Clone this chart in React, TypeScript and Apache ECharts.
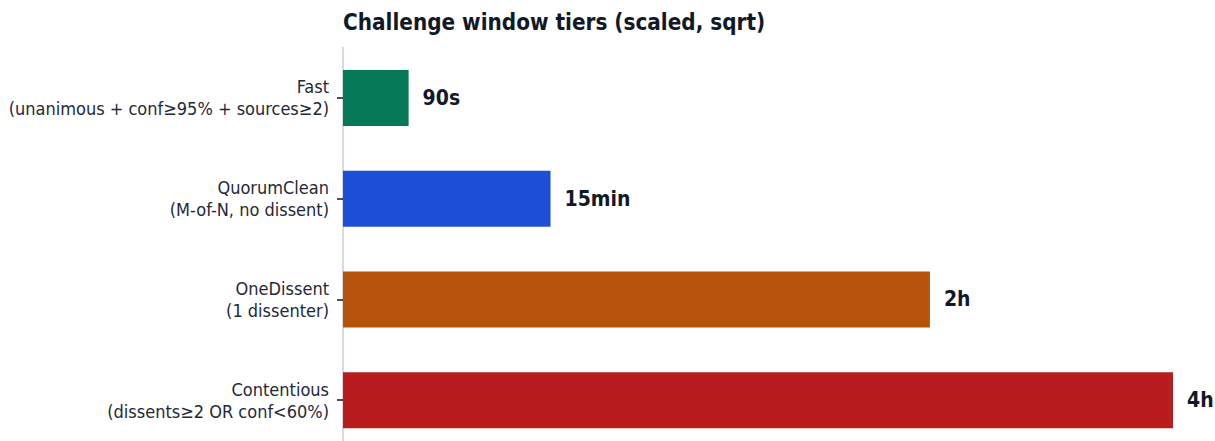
import React, { useEffect, useRef } from "react";
import * as echarts from "echarts";

const categories = [
  "Fast\n(unanimous + conf≥95% + sources≥2)",
  "QuorumClean\n(M-of-N, no dissent)",
  "OneDissent\n(1 dissenter)",
  "Contentious\n(dissents≥2 OR conf<60%)",
];
const windowSeconds = [90, 900, 7200, 14400];
const windowLabels = ["90s", "15min", "2h", "4h"];
const barColors = ["#047857", "#1d4ed8", "#b45309", "#b91c1c"];

const FONT = "'DejaVu Sans Condensed', 'DejaVu Sans', sans-serif";

export default function App() {
  const ref = useRef<HTMLDivElement>(null);
  useEffect(() => {
    if (!ref.current) return;
    const chart = echarts.init(ref.current, null, { renderer: "svg" });
    const scaled = windowSeconds.map((s) => Math.sqrt(s));
    chart.setOption({
      animation: false,
      title: {
        text: "Challenge window tiers (scaled, sqrt)",
        left: 338,
        top: 6,
        textStyle: { fontFamily: FONT, fontSize: 22.3, fontWeight: "bold", color: "#111827" },
      },
      grid: { left: 343, top: 47.5, width: 830, height: 403, containLabel: false, outerBoundsMode: "none" },
      xAxis: {
        type: "value",
        min: 0,
        max: Math.sqrt(windowSeconds[windowSeconds.length - 1]),
        show: false,
      },
      yAxis: {
        type: "category",
        inverse: true,
        data: categories,
        axisLine: { show: true, lineStyle: { color: "#d5dbe5", width: 2 } },
        axisTick: { show: true, alignWithLabel: true, length: 6, lineStyle: { color: "#111827", width: 1.5 } },
        axisLabel: {
          margin: 14,
          fontFamily: FONT,
          fontSize: 18,
          lineHeight: 22,
          padding: [8, 0, 0, 0],
          color: "#1f2937",
          align: "right",
        },
      },
      series: [
        {
          type: "bar",
          barWidth: 56,
          data: scaled.map((v, i) => ({
            value: v,
            itemStyle: { color: barColors[i] },
            label: { formatter: windowLabels[i] },
          })),
          label: {
            show: true,
            position: "right",
            distance: 14,
            fontFamily: FONT,
            fontSize: 21,
            fontWeight: "bold",
            color: "#111827",
          },
        },
      ],
    });
    return () => chart.dispose();
  }, []);
  return (
    <div
      ref={ref}
      style={{ position: "fixed", left: 0, top: 0, width: 1215, height: 441, background: "#fff" }}
    />
  );
}
